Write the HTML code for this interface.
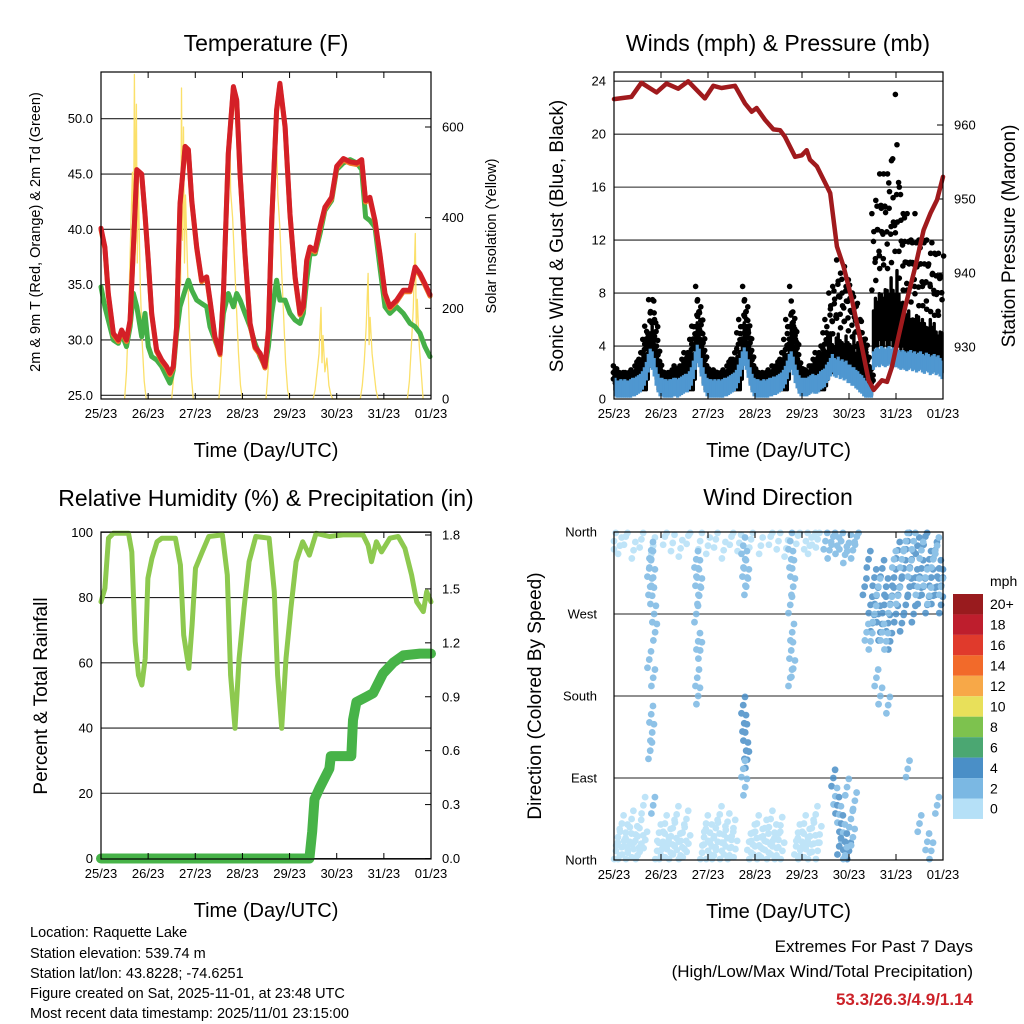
<!DOCTYPE html>
<html><head><meta charset="utf-8"><style>
html,body{margin:0;padding:0;background:#fff}
svg{display:block;font-family:"Liberation Sans",sans-serif}
</style></head><body>
<svg id="s" width="1024" height="1024" viewBox="0 0 1024 1024" xmlns="http://www.w3.org/2000/svg">
<rect width="1024" height="1024" fill="#fff"/>
<g id="g1"></g>
<g id="g2"></g>
<g id="g3"></g>
<g id="g4"></g>
<g id="g5">
<text x="30" y="937" font-size="14.5">Location: Raquette Lake</text>
<text x="30" y="958" font-size="14.5">Station elevation: 539.74 m</text>
<text x="30" y="978" font-size="14.5">Station lat/lon: 43.8228; -74.6251</text>
<text x="30" y="998" font-size="14.5">Figure created on Sat, 2025-11-01, at 23:48 UTC</text>
<text x="30" y="1018" font-size="14.5">Most recent data timestamp: 2025/11/01 23:15:00</text>
<text x="973" y="952" font-size="17" text-anchor="end">Extremes For Past 7 Days</text>
<text x="973" y="977" font-size="17" text-anchor="end">(High/Low/Max Wind/Total Precipitation)</text>
<text x="973" y="1005" font-size="17" font-weight="bold" fill="#cc2229" text-anchor="end">53.3/26.3/4.9/1.14</text>
</g>
</svg>
<script>
// ---------- data ----------
const dayLabels=["25/23","26/23","27/23","28/23","29/23","30/23","31/23","01/23"];
const tempHours=[0,2,3.7,6.3,8.8,10.5,13,14.8,16.5,18.2,20.7,22.4,24.1,25.8,28.3,30.9,33.4,35.1,36.8,38.5,40.2,42.8,44.5,46.2,48.7,51.2,53.8,55.5,58,60.6,62.3,64.8,67.4,69.1,70.8,73.3,75.9,78.4,81,83.5,85.2,86.9,89.4,91.1,93.7,96.2,98.8,101.3,103,104.7,106.4,109,111.5,114,117.4,120,123.4,126.8,130.2,132.7,134.7,136.9,139.5,142,144.6,147.1,150.5,153.9,157.3,159.9,162.4,164.9,167.5];
const tempRed=[40.1,38.4,34.2,30.6,30,30.9,30,31.8,38.4,45.4,45,41.4,37.2,32.4,29.1,28.2,27.6,27,27.6,31.2,42.3,47.5,47.2,42.6,38.4,35.4,35.7,33.6,30.3,28.8,34.2,46.9,52.9,51.7,45,37.8,31.5,29.4,28.8,27.6,30.9,40.8,50.8,53.2,49.3,41.4,35.7,32.4,33,37.2,38.4,38.1,40.2,42,42.9,45.7,46.4,46.1,46,46.3,42.6,42.9,40.8,37.8,34.2,33,33.6,34.5,34.5,36.6,36,35.1,34.1];
const tempDew=[34.8,33,31.8,30,29.7,30.6,29.4,31.2,34.2,33,30.3,32.4,29.4,28.5,28.2,27.6,26.7,26.1,27.3,30.6,33,34.5,35.4,34.5,33.6,33.3,33,31.2,30,28.8,32.4,34.2,33,34.2,33.6,32.4,31.2,29.7,28.5,27.6,29.4,32.4,35.4,33.6,33.6,32.4,31.8,31.5,32.4,35.4,37.8,37.8,39.6,41.7,42.6,45.4,46,46.3,46,45.4,41.1,40.8,40.2,36.6,33,32.4,33,32.4,31.5,31.2,30.6,29.4,28.5];
const solarHours=[12,13,14,15,16,16.5,17,17.5,18,18.5,19,20,21,22,23,36,37,38,39,40,40.5,41,41.5,42,42.5,43,44,45,46,47,60,61,62,63,64,65,65.7,66,67,68,69,70,71,72,84,85,86,87,88,89,89.4,90,91,92,93,94,95,96,108,109,110,111,112,112.5,113,114,115,116,117,118,132,133,134,135,136,136.5,137,138,139,140,141,156,157,158,159,160,160.5,161,162,163,164];
const solarVals=[0,60,180,350,500,300,716,400,650,300,480,250,120,40,0,0,50,150,300,420,250,686,350,600,300,450,300,150,50,0,0,60,150,280,400,520,569,460,400,300,200,100,30,0,0,60,150,280,400,540,569,450,380,280,180,80,20,0,0,20,60,100,202,80,140,60,90,30,10,0,0,30,80,160,277,120,180,100,60,20,0,0,40,120,200,365,150,220,120,60,0];
const tempTicks=[25,30,35,40,45,50];
const solarTicks=[0,200,400,600];

const gustHi=[2.5,1.8,2,2,1.8,2,2,1.8,2,2.2,2,2.5,2.8,3,3.5,4.5,5.5,6.5,7.5,8,7.5,6,4,2.8,
2.2,2,2,1.8,2,2,2.2,2.5,2.2,2,2.5,3,3.5,3,3.5,4.5,5.5,7,8.5,7.5,6.5,5,3.5,2.5,
2.2,2,2,2.2,2,2,1.8,2,2.2,2,2.5,2.8,3,3,3.5,5,6,7,8.5,7.5,6,5,3.5,2.5,
2.2,2,2,1.8,2,1.8,2,2.2,2,2.5,2.2,2.5,2.8,3,3.5,4.5,6,7,8.5,6.5,5.5,4.5,3,2.5,
2,2,2.2,2,2.5,2.5,3,3.5,3,3.5,4,5,6,7,8,9,8.5,9.5,10.5,10,9.5,9,10,9.5,
9,8.5,8,8,7,6.5,6,5,4.5,3.5,2.5,2,14,16,15,16,17,16,17,18,17,20,18,17,
23,17,16,15,14,13,14,13,12,13,14,12.5,12,13,12,11,12,13,11,12,11,10,11,12];
const gustLo=[0.7,0.7,0.7,0.7,0.7,0.7,0.7,0.7,0.7,0.7,0.7,0.7,0.7,0.7,0.7,0.7,0.7,1.5,2.5,3,2.5,1.5,0.7,0.7,
0.7,0.7,0.7,0.7,0.7,0.7,0.7,0.7,0.7,0.7,0.7,0.7,0.7,0.7,0.7,0.7,0.7,1.5,3,3,2,1.2,0.7,0.7,
0.7,0.7,0.7,0.7,0.7,0.7,0.7,0.7,0.7,0.7,0.7,0.7,0.7,0.7,0.7,0.7,0.7,1.5,3,3,2,1.2,0.7,0.7,
0.7,0.7,0.7,0.7,0.7,0.7,0.7,0.7,0.7,0.7,0.7,0.7,0.7,0.7,0.7,0.7,0.7,1.5,3,3,2,1.2,0.7,0.7,
0.7,0.7,0.7,0.7,0.7,0.7,0.7,0.7,0.7,0.7,0.7,0.7,1,1.5,2,2,2,2.5,2.5,2,2,2,2.5,2,
2,2,2,1.5,1.5,1.2,1,1,0.8,0.5,0.3,0.3,3.5,4,4,4.5,4,4,4.5,4,4,4.5,4,4,
4,4,3.5,4,3.5,3.5,3.5,3,3.5,3,3,3.5,3,3,3,3,2.5,3,3,3,2.5,2.5,2.5,2];
const windMean=[1,0.8,0.8,0.9,0.8,0.9,0.8,0.8,0.9,1,1,1.1,1.2,1.3,1.5,1.8,2.2,2.8,3.2,3,2.5,1.8,1.3,1,
1,0.9,0.9,0.8,0.9,0.9,1,1,0.9,1,1.1,1.2,1.3,1.3,1.5,1.8,2.3,3,3.5,3.2,2.5,1.8,1.3,1,
0.9,0.9,0.8,0.9,0.8,0.9,0.8,0.9,1,1,1.1,1.2,1.3,1.4,1.6,2,2.5,3,3.3,3,2.4,1.8,1.3,1,
0.9,0.9,0.8,0.8,0.9,0.8,0.9,1,1,1.1,1.1,1.2,1.3,1.4,1.6,1.9,2.3,2.8,3,2.6,2,1.6,1.2,1,
1,1,1,1.1,1.2,1.3,1.2,1.2,1.3,1.5,1.6,1.7,2,2.2,2.5,2.8,2.5,2.4,2.6,2.3,2.4,2.2,2.3,2,
2,1.8,1.8,1.6,1.5,1.3,1.2,1,0.8,0.6,0.5,0.5,3,3.2,3.3,3.2,3.4,3.3,3.2,3.3,3.4,3.2,3.3,3.2,
3.2,3.1,3,3.1,3,2.9,3,3.1,2.9,3,2.8,2.9,3,2.8,2.7,2.9,2.8,2.6,2.7,2.8,2.6,2.7,2.5,2.3];
const presHours=[0,8.9,14,21.7,26.8,32.8,37.9,46.4,50.7,54.9,61.8,66.9,70.3,72.8,77.1,81.4,84.8,87.3,92.5,95.9,98.4,100.1,103.6,108.7,110.4,113.8,117.2,121.5,126.6,130,132.6,136.8,139.4,141.9,145.3,148.8,153.9,158.1,161.6,165,168];
const presVals=[963.5,963.8,965.7,964.4,965.6,964.9,965.9,963.6,965.3,965,965.3,962.9,961.8,962.3,960.7,959.4,959.3,958.4,955.7,955.9,956.6,955.3,954.4,951.7,950.8,943.6,940.9,936.4,930,925.5,924.2,925.5,925.3,927.3,931.4,935.5,940.9,945.8,948.1,949.9,953];
const windTicks=[0,4,8,12,16,20,24];
const presTicks=[930,940,950,960];

const rhHours=[0,2,3.8,6.3,14,15.7,17.4,19.1,20.8,22.5,23.9,25.9,28.5,31,37.9,40.4,42.1,44.7,46.4,48.1,51.5,54.9,61.8,64.3,66,68.2,70.3,72.8,75.4,78.8,85.6,88.2,89.9,92,94.2,96.7,99.3,102.7,106.1,109.5,116.3,123.2,133.4,136,137.7,140.2,142.8,147.1,151.3,154.7,158.1,160.7,164.1,165.8,168];
const rhVals=[78.7,82.8,98.2,99.7,99.7,94,66.5,56.2,53.2,61.3,85.9,92,97.1,98.2,98.2,90,68.5,58.3,71.6,89,94,98.7,99.2,86.9,56.2,39.9,61.3,76.7,91,98.7,98.2,81.8,56.2,39.9,61.3,76.7,91,97.1,93,99.7,98.7,99.2,99.2,96,91,97.1,94,98.2,98.7,95.1,86.9,78.7,75.7,81.8,78.7];
const rainHours=[0,106.1,107.5,108.7,111.2,116.3,117,119.8,127.4,128.3,130,135.1,138.5,143.6,148.8,153.9,162.4,168];
const rainVals=[0,0,0.15,0.33,0.39,0.5,0.57,0.57,0.57,0.77,0.87,0.9,0.92,1.03,1.09,1.13,1.14,1.14];
const rhTicks=[0,20,40,60,80,100];
const rainTicks=["0.0","0.3","0.6","0.9","1.2","1.5","1.8"];

const dirHours=[1,2,3,4,5,6,7,8,9,10,11,12,13,14,15,16,22,23,24,25,26,27,28,29,30,31,32,33,34,35,36,37,38,45,46,47,48,49,50,51,52,53,54,55,56,57,58,59,60,61,62,69,70,71,72,73,74,75,76,77,78,79,80,81,82,83,84,85,86,93,94,95,96,97,98,99,100,101,102,103,104,105,
0,3,6,10,14,20,26,30,34,38,44,48,52,56,60,64,70,75,80,84,88,94,98,100,102,104,
108,110,112,114,116,118,120,122,124,
18,18.5,19,19.5,20,20.5,21,19,18,20,19,19.5,18.5,20,
42,42.5,43,43.5,44,42,43,44,42.5,43,
66,66.5,67,67.5,68,66,66.5,67,67.5,68,66,67,
90,90.5,91,91.5,90,91,90.5,91.5,90,
112,113,114,115,116,117,118,119,120,121,122,123,118,115,
128,130,131,132,133,134,135,136,137,138,139,140,141,142,143,144,145,146,147,148,149,150,151,152,153,154,155,156,157,158,159,160,161,162,163,164,165,166,167,168,
129,131,133,135,137,139,141,143,145,147,149,151,153,155,157,159,161,163,165,167,
134,136,140,150,156,160,165,162];
const dirDeg=[10,25,5,40,15,30,8,20,45,12,28,5,35,18,60,22,10,30,5,20,40,12,25,8,35,15,50,20,5,30,12,45,18,8,25,40,10,30,15,5,35,20,50,10,28,15,42,5,22,35,12,20,8,30,15,40,5,25,12,35,20,8,45,15,30,5,22,38,10,15,30,5,20,40,12,25,8,35,18,50,10,28,
350,345,355,340,352,345,355,348,342,356,350,345,352,340,355,348,352,345,355,350,342,356,350,345,355,352,
350,340,355,345,350,335,348,340,355,
320,300,330,290,310,270,250,340,220,200,160,140,120,60,
330,310,320,290,300,270,240,230,200,180,
345,320,330,300,310,170,150,140,120,110,100,80,
350,330,320,300,280,250,230,210,200,
90,70,60,50,40,30,20,80,10,45,25,65,5,15,
300,330,280,260,310,290,270,250,320,280,300,260,240,290,310,270,340,300,260,320,280,350,300,330,270,310,345,290,320,300,355,280,330,310,290,340,300,320,280,310,
250,240,270,300,250,240,280,330,290,330,350,320,350,300,340,310,290,330,345,300,
200,180,170,100,40,20,60,10];
const dirSpeed=[0.5,0.5,0.5,0.5,0.5,0.5,0.5,0.5,0.5,0.5,0.5,0.5,0.5,0.5,0.5,0.5,0.5,0.5,0.5,0.5,0.5,0.5,0.5,0.5,0.5,0.5,0.5,0.5,0.5,0.5,0.5,0.5,0.5,0.5,0.5,0.5,0.5,0.5,0.5,0.5,0.5,0.5,0.5,0.5,0.5,0.5,0.5,0.5,0.5,0.5,0.5,0.5,0.5,0.5,0.5,0.5,0.5,0.5,0.5,0.5,0.5,0.5,0.5,0.5,0.5,0.5,0.5,0.5,0.5,0.5,0.5,0.5,0.5,0.5,0.5,0.5,0.5,0.5,0.5,0.5,0.5,0.5,
0.5,0.5,0.5,0.5,0.5,0.5,0.5,0.5,0.5,0.5,0.5,0.5,0.5,0.5,0.5,0.5,0.5,0.5,0.5,0.5,0.5,0.5,0.5,0.5,0.5,0.5,
2,2,2,2,2,2,2,2,2,
2.5,2.5,2.5,2,2.5,2,2,2,2,2,2,2.5,2,2,
2.5,2.5,2,2,2.5,2,2,2,2,2,
2,2.5,2,2,2,3.5,3.5,3.5,3.5,3.5,2,2,
2,2.5,2,2.5,2,2,2,2,2,
3.5,2.5,3.5,2.5,3.5,2.5,3.5,2.5,3.5,2.5,2.5,2.5,2.5,3.5,
4,4,4,4,4,4,4,4,4,4,4,4,4,4,4,4,4,4,4,4,4,4,4,4,4,4,4,4,4,4,4,4,4,4,4,4,4,4,4,4,
2.5,2.5,2.5,2.5,2.5,2.5,2.5,2.5,2.5,2.5,2.5,2.5,2.5,2.5,2.5,2.5,2.5,2.5,2.5,2.5,
2.5,2.5,2.5,2.5,2.5,2.5,2.5,2.5];
const cbLabels=["20+","18","16","14","12","10","8","6","4","2","0"];
const cbColors=["#991b1e","#be1e2d","#e03a2c","#f26a2a","#f7a848","#e8e05a","#7dc24e","#4ba772","#4a8fc7","#7bb8e3","#b5e0f7"];

// ---------- helpers ----------
const NS="http://www.w3.org/2000/svg";
function mk(parent,tag,attrs,txt){const e=document.createElementNS(NS,tag);for(const k in attrs)e.setAttribute(k,attrs[k]);if(txt!==undefined)e.textContent=txt;parent.appendChild(e);return e;}
function lin(d0,d1,r0,r1){return v=>r0+(v-d0)/(d1-d0)*(r1-r0);}
function frame(g,X0,X1,Y0,Y1){
  const r=mk(g,'rect',{x:X0,y:Y0,width:X1-X0,height:Y1-Y0,fill:'none',stroke:'#000','stroke-width':1.2});
  
  
}
function xAxis(g,X0,X1,Y0,Y1){
  const xs=lin(0,7,X0,X1);
  dayLabels.forEach((l,i)=>{
    const x=xs(i);
    mk(g,'line',{x1:x,x2:x,y1:Y1,y2:Y1-6,stroke:'#000','stroke-width':1});
    mk(g,'line',{x1:x,x2:x,y1:Y0,y2:Y0+6,stroke:'#000','stroke-width':1});
    const t=mk(g,'text',{x:x,y:Y1+19,'font-size':13,'text-anchor':'middle'},l);
    
    
  });
  const t=mk(g,'text',{x:(X0+X1)/2,y:Y1+58,'font-size':20,'text-anchor':'middle'},'Time (Day/UTC)');
  
  
}
function title(g,x,y,s){const t=mk(g,'text',{x:x,y:y,'font-size':23,'text-anchor':'middle'},s);
  
  }
function vtitle(g,x,y,s,fs){const t=mk(g,'text',{x:x,y:y,'font-size':fs,'text-anchor':'middle',transform:`rotate(-90 ${x} ${y})`},s);
  
  }
function poly(g,xsArr,ysArr,fx,fy,attrs){
  const pts=xsArr.map((h,i)=>fx(h).toFixed(1)+','+fy(ysArr[i]).toFixed(1)).join(' ');
  return mk(g,'polyline',Object.assign({points:pts,fill:'none','stroke-linejoin':'round','stroke-linecap':'round'},attrs));
}

// ---------- panel 1: temperature ----------
(function(){
  const g=document.getElementById('g1');const X0=101,X1=431,Y0=72,Y1=399;
  const fx=lin(0,168,X0,X1), fy=lin(25,50,395.3,118.7), fs=lin(0,600,399,127);
  tempTicks.forEach(v=>{const y=fy(v);
    mk(g,'line',{x1:X0,x2:X1,y1:y,y2:y,stroke:'#222','stroke-width':1.1});
    const t=mk(g,'text',{x:X0-8,y:y+4.5,'font-size':13,'text-anchor':'end'},v.toFixed(1));
    
    });
  solarTicks.forEach(v=>{const y=fs(v);
    mk(g,'line',{x1:X1,x2:X1-6,y1:y,y2:y,stroke:'#000'});
    const t=mk(g,'text',{x:X1+11,y:y+4.5,'font-size':13},String(v));
    
    });
  const ys=poly(g,solarHours,solarVals,fx,fs,{stroke:'#fbe06a','stroke-width':1.3});
  
  
  const gd=poly(g,tempHours,tempDew,fx,fy,{stroke:'#45b048','stroke-width':5});
  
  
  const go=poly(g,tempHours,tempRed,fx,v=>fy(v)+1.5,{stroke:'#f07a28','stroke-width':5});
  
  
  const gr=poly(g,tempHours,tempRed,fx,fy,{stroke:'#d42027','stroke-width':5});
  
  
  frame(g,X0,X1,Y0,Y1);xAxis(g,X0,X1,Y0,Y1);
  title(g,266,51,'Temperature (F)');
  vtitle(g,40,232,'2m & 9m T (Red, Orange) & 2m Td (Green)',14.5);
  vtitle(g,496,236,'Solar Insolation (Yellow)',14.5);
})();

// ---------- panel 2: winds ----------
(function(){
  const g=document.getElementById('g2');const X0=614,X1=943,Y0=72,Y1=399;
  const fx=lin(0,168,X0,X1), fy=lin(0,24,399,81.2), fp=lin(930,960,347,125);
  windTicks.forEach(v=>{const y=fy(v);
    mk(g,'line',{x1:X0,x2:X1,y1:y,y2:y,stroke:'#222','stroke-width':1.1});
    const t=mk(g,'text',{x:X0-8,y:y+4.5,'font-size':13,'text-anchor':'end'},String(v));
    
    });
  presTicks.forEach(v=>{const y=fp(v);
    mk(g,'line',{x1:X1,x2:X1-6,y1:y,y2:y,stroke:'#000'});
    const t=mk(g,'text',{x:X1+11,y:y+4.5,'font-size':13},String(v));
    
    });
  const gb=mk(g,'g',{});
  
  
  const fracs=[0.45,0.55,0.65,0.72,0.8,0.88,1];
  gustHi.forEach((hi,i)=>{const x=fx(i+0.5);const lo=gustLo[i];const span=hi-lo;
    const solidTop=lo+(span>6?0.3:0.5)*span;
    mk(gb,'line',{x1:x,x2:x,y1:fy(lo),y2:fy(solidTop),stroke:'#000','stroke-width':3.4,'stroke-linecap':'round'});
    fracs.forEach((f,k)=>{
      if((i+k)%2===0 || span<5) mk(gb,'circle',{cx:x+((k%3)-1)*1.6,cy:fy(lo+f*span),r:2.8,fill:'#000'});
    });
  });
  const gw=mk(g,'g',{});
  
  
  windMean.forEach((w,i)=>{const x=fx(i+0.5);
    mk(gw,'line',{x1:x,x2:x,y1:fy(Math.max(0.1,w-0.8)),y2:fy(w+0.6),stroke:'#4f97d0','stroke-width':3.2});
  });
  const pl=poly(g,presHours,presVals,fx,fp,{stroke:'#a01a1d','stroke-width':4.5});
  
  
  frame(g,X0,X1,Y0,Y1);xAxis(g,X0,X1,Y0,Y1);
  title(g,778,51,'Winds (mph) & Pressure (mb)');
  vtitle(g,563,236,'Sonic Wind & Gust (Blue, Black)',19);
  vtitle(g,1015,236,'Station Pressure (Maroon)',19);
})();

// ---------- panel 3: humidity ----------
(function(){
  const g=document.getElementById('g3');const X0=101,X1=431,Y0=532,Y1=859;
  const fx=lin(0,168,X0,X1), fy=lin(0,100,858.5,532.3), fr=lin(0,1.8,858.5,535);
  rhTicks.forEach(v=>{const y=fy(v);
    mk(g,'line',{x1:X0,x2:X1,y1:y,y2:y,stroke:'#222','stroke-width':1.1});
    const t=mk(g,'text',{x:X0-8,y:y+4.5,'font-size':13,'text-anchor':'end'},String(v));
    
    });
  rainTicks.forEach(v=>{const y=fr(parseFloat(v));
    mk(g,'line',{x1:X1,x2:X1-6,y1:y,y2:y,stroke:'#000'});
    const t=mk(g,'text',{x:X1+11,y:y+4.5,'font-size':13},v);
    
    });
  const rh=poly(g,rhHours,rhVals,fx,fy,{stroke:'#8dc94f','stroke-width':5});
  
  
  const rn=poly(g,rainHours,rainVals,fx,fr,{stroke:'#47b348','stroke-width':10});
  
  
  frame(g,X0,X1,Y0,Y1);xAxis(g,X0,X1,Y0,Y1);
  title(g,266,506,'Relative Humidity (%) & Precipitation (in)');
  vtitle(g,47,696,'Percent & Total Rainfall',19);
})();

// ---------- panel 4: wind direction ----------
(function(){
  const g=document.getElementById('g4');const X0=614,X1=943,Y0=532,Y1=860;
  const fx=lin(0,168,X0,X1), fy=lin(0,360,860,532);
  const dirLabels=["North","East","South","West","North"];
  dirLabels.forEach((l,i)=>{const y=fy(i*90);
    mk(g,'line',{x1:X0,x2:X1,y1:y,y2:y,stroke:'#222','stroke-width':1.1});
    const t=mk(g,'text',{x:X0-17,y:y+4.5,'font-size':13,'text-anchor':'end'},l);
    
    });
  const gp=mk(g,'g',{opacity:0.85});
  
  
  const clip=(v)=>Math.max(1,Math.min(359,v));
  dirHours.forEach((h,i)=>{
    const s=dirSpeed[i];const bin=Math.min(10,Math.floor((s+1)/2));
    const c=cbColors[10-bin];
    [[0,0],[0.9,9],[-0.9,-9]].forEach(o=>{
      mk(gp,'circle',{cx:fx(Math.max(0,Math.min(168,h+o[0]))),cy:fy(clip(dirDeg[i]+o[1])),r:3.4,fill:c});
    });
  });
  frame(g,X0,X1,Y0,Y1);xAxis(g,X0,X1,Y0,Y1);
  title(g,778,505,'Wind Direction');
  vtitle(g,541,696,'Direction (Colored By Speed)',19);
  const cb=mk(g,'g',{});
  
  
  const bh=20.45;
  cbColors.forEach((c,i)=>{
    mk(cb,'rect',{x:953,y:594+i*bh,width:30,height:bh,fill:c});
    const t=mk(cb,'text',{x:990,y:594+i*bh+bh/2+5,'font-size':14},cbLabels[i]);
    
    
  });
  const u=mk(cb,'text',{x:990,y:586,'font-size':14},'mph');
  
  
})();
</script>
</body></html>
